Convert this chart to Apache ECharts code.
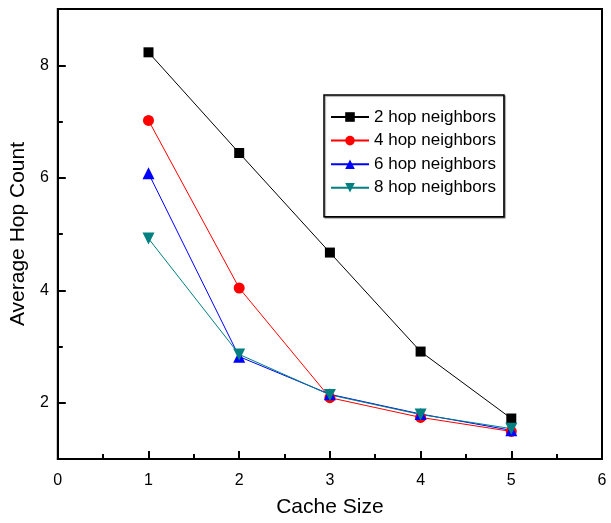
<!DOCTYPE html>
<html>
<head>
<meta charset="utf-8">
<script src="https://cdn.jsdelivr.net/npm/echarts@6/dist/echarts.min.js"></script>
<style>html,body{margin:0;padding:0;background:#fff}#c{width:611px;height:523px}</style>
</head>
<body>
<div id="c"></div>
<script>
const cacheSize = [1, 2, 3, 4, 5];
const hop2 = [8.23, 6.44, 4.67, 2.91, 1.72];
const hop4 = [7.02, 4.04, 2.09, 1.74, 1.49];
const hop6 = [6.08, 2.82, 2.15, 1.80, 1.51];
const hop8 = [4.92, 2.86, 2.14, 1.79, 1.54];
const seriesNames = ['2 hop neighbors', '4 hop neighbors', '6 hop neighbors', '8 hop neighbors'];
const yMajor = [2, 4, 6, 8];
const yMinor = [1, 3, 5, 7, 9];

const FONT = 'Liberation Sans, Arial, sans-serif';
function pairs(arr) { return cacheSize.map((x, i) => [x, arr[i]]); }

const chart = echarts.init(document.getElementById('c'), null, {renderer: 'canvas'});
chart.setOption({
  animation: false,
  backgroundColor: '#fff',
  grid: {left: 54, right: 9, top: 9, bottom: 60, show: true, borderColor: '#000', borderWidth: 2, containLabel: false},
  xAxis: {
    type: 'value', min: 0, max: 6, interval: 1,
    name: 'Cache Size', nameLocation: 'middle', nameGap: 38,
    nameTextStyle: {fontFamily: FONT, fontSize: 21, color: '#000'},
    axisLine: {show: true, lineStyle: {color: '#000', width: 2}},
    axisTick: {show: true, inside: true, length: 8, lineStyle: {color: '#000', width: 2}},
    minorTick: {show: true, splitNumber: 2, length: 5, lineStyle: {color: '#000', width: 2}},
    axisLabel: {fontFamily: FONT, fontSize: 16, color: '#000', margin: 14},
    splitLine: {show: false}
  },
  yAxis: [{
    type: 'value', min: 1, max: 9, interval: 1,
    name: 'Average Hop Count', nameLocation: 'middle', nameGap: 27,
    nameTextStyle: {fontFamily: FONT, fontSize: 21, color: '#000'},
    axisLine: {show: true, lineStyle: {color: '#000', width: 2}},
    axisTick: {show: true, inside: true, length: 8, customValues: yMajor, lineStyle: {color: '#000', width: 2}},
    axisLabel: {fontFamily: FONT, fontSize: 16, color: '#000', margin: 9, customValues: yMajor},
    splitLine: {show: false}
  }, {
    type: 'value', min: 1, max: 9, interval: 1, position: 'left', offset: 0,
    axisLine: {show: false},
    axisTick: {show: true, inside: true, length: 5, customValues: yMinor, lineStyle: {color: '#000', width: 2}},
    axisLabel: {show: false},
    splitLine: {show: false}
  }],
  legend: {
    orient: 'vertical', left: 324, top: 95,
    data: seriesNames,
    itemWidth: 38, itemHeight: 12, itemGap: 5.6,
    padding: [13, 8, 20, 6],
    borderColor: '#000', borderWidth: 1.5,
    shadowColor: 'rgba(0,0,0,0.4)', shadowOffsetX: 1, shadowOffsetY: 1, shadowBlur: 1,
    backgroundColor: '#fff',
    textStyle: {fontFamily: FONT, fontSize: 17, color: '#000', lineHeight: 18}
  },
  series: [
    {name: seriesNames[0], type: 'line', data: pairs(hop2), symbol: 'rect', symbolSize: 10,
     itemStyle: {color: '#000'}, lineStyle: {color: '#000', width: 1}},
    {name: seriesNames[1], type: 'line', data: pairs(hop4), symbol: 'circle', symbolSize: 11,
     itemStyle: {color: '#ff0000'}, lineStyle: {color: '#ff0000', width: 1}},
    {name: seriesNames[2], type: 'line', data: pairs(hop6), symbol: 'triangle', symbolSize: 12,
     itemStyle: {color: '#0000ff'}, lineStyle: {color: '#0000ff', width: 1}},
    {name: seriesNames[3], type: 'line', data: pairs(hop8), symbol: 'triangle', symbolRotate: 180, symbolSize: 12,
     itemStyle: {color: '#008080'}, lineStyle: {color: '#008080', width: 1}}
  ]
});
</script>
</body>
</html>
